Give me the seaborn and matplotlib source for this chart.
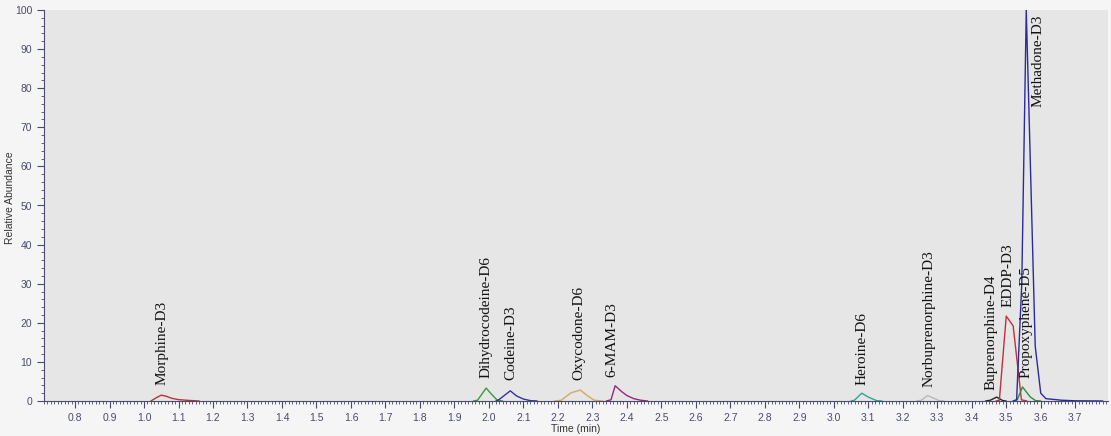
import numpy as np
import pandas as pd
import matplotlib
matplotlib.use("Agg")
import matplotlib.pyplot as plt
from matplotlib.ticker import MultipleLocator, FormatStrFormatter
import seaborn as sns

# ---- data ----
compounds = ["Morphine-D3", "Dihydrocodeine-D6", "Codeine-D3", "Oxycodone-D6",
             "6-MAM-D3", "Heroine-D6", "Norbuprenorphine-D3", "Buprenorphine-D4",
             "EDDP-D3", "Propoxyphene-D5", "Methadone-D3"]

morphine_t = [1.02, 1.035, 1.05, 1.065, 1.08, 1.10, 1.13, 1.16]
morphine_y = [0.0, 0.8, 1.5, 1.2, 0.7, 0.35, 0.15, 0.0]
dihydro_t = [1.955, 1.967, 1.992, 2.005, 2.024, 2.04]
dihydro_y = [0.0, 0.2, 3.3, 2.0, 0.2, 0.0]
codeine_t = [2.02, 2.03, 2.062, 2.08, 2.10, 2.12, 2.14]
codeine_y = [0.0, 0.4, 2.6, 1.3, 0.5, 0.1, 0.0]
oxy_t = [2.19, 2.21, 2.238, 2.265, 2.285, 2.305, 2.33]
oxy_y = [0.0, 0.2, 2.1, 2.8, 1.4, 0.2, 0.0]
mam_t = [2.34, 2.354, 2.366, 2.385, 2.40, 2.42, 2.44, 2.46]
mam_y = [0.0, 0.3, 3.9, 2.4, 1.4, 0.6, 0.2, 0.0]
heroine_t = [3.05, 3.06, 3.081, 3.10, 3.124, 3.14]
heroine_y = [0.0, 0.2, 2.0, 1.0, 0.1, 0.0]
norbup_t = [3.24, 3.254, 3.272, 3.29, 3.305, 3.32]
norbup_y = [0.0, 0.2, 1.4, 0.7, 0.1, 0.0]
bup_t = [3.44, 3.454, 3.472, 3.49, 3.50]
bup_y = [0.0, 0.2, 1.0, 0.1, 0.0]
eddp_t = [3.47, 3.48, 3.50, 3.52, 3.544, 3.56]
eddp_y = [0.0, 0.2, 21.7, 19.2, 0.3, 0.0]
propox_t = [3.52, 3.532, 3.547, 3.57, 3.585, 3.60]
propox_y = [0.0, 0.3, 3.6, 1.0, 0.1, 0.0]
methadone_t = [3.52, 3.53, 3.545, 3.558, 3.584, 3.60, 3.615, 3.66, 3.70, 3.78]
methadone_y = [0.0, 0.3, 30.0, 100.0, 14.0, 2.0, 0.6, 0.2, 0.05, 0.0]

label_t = [1.052, 1.993, 2.065, 2.262, 2.357, 3.081, 3.275, 3.457, 3.505, 3.558, 3.593]
label_y = [4.1, 5.9, 5.4, 5.4, 6.1, 4.1, 3.6, 2.8, 24.0, 5.9, 75.2]

colors = ["#b5323f", "#3c9a3c", "#33339e", "#d2a963", "#932a7c", "#2fa39b",
          "#b9b9b9", "#222222", "#c0303e", "#2f8f3a", "#2b2b9c"]

series_t = [morphine_t, dihydro_t, codeine_t, oxy_t, mam_t, heroine_t,
            norbup_t, bup_t, eddp_t, propox_t, methadone_t]
series_y = [morphine_y, dihydro_y, codeine_y, oxy_y, mam_y, heroine_y,
            norbup_y, bup_y, eddp_y, propox_y, methadone_y]

frames = []
for name, t, y in zip(compounds, series_t, series_y):
    frames.append(pd.DataFrame({"Time (min)": t, "Relative Abundance": y, "Compound": name}))
df = pd.concat(frames, ignore_index=True)

# ---- styling ----
sns.set_style("ticks")
tick_col = "#4b4b6e"
plt.rcParams["font.family"] = ["Liberation Sans", "DejaVu Sans"]

fig = plt.figure(figsize=(11.11, 4.36), dpi=100, facecolor="#f5f5f5")
ax = fig.add_axes([44 / 1111, 35 / 436, (1108 - 44) / 1111, (401 - 10) / 436])
ax.set_facecolor("#e6e6e6")

sns.lineplot(data=df, x="Time (min)", y="Relative Abundance", hue="Compound",
             palette=dict(zip(compounds, colors)), sort=False, estimator=None,
             linewidth=1.0, legend=False, ax=ax)

for name, t, y in zip(compounds, label_t, label_y):
    ax.text(t, y, name, rotation=90, ha="center", va="bottom",
            fontsize=11, family=["Liberation Serif", "DejaVu Serif"], color="#111111")

ax.set_xlim(0.71, 3.795)
ax.set_ylim(0, 100)
ax.xaxis.set_major_locator(MultipleLocator(0.1))
ax.xaxis.set_minor_locator(MultipleLocator(0.01))
ax.xaxis.set_major_formatter(FormatStrFormatter("%.1f"))
ax.yaxis.set_major_locator(MultipleLocator(10))
ax.yaxis.set_minor_locator(MultipleLocator(2))

ax.tick_params(axis="both", which="major", length=5, width=0.8, colors=tick_col,
               labelsize=7.5, direction="out")
ax.tick_params(axis="both", which="minor", length=2.5, width=0.6, colors=tick_col,
               direction="out")
for s in ["top", "right"]:
    ax.spines[s].set_visible(False)
for s in ["left", "bottom"]:
    ax.spines[s].set_color(tick_col)
    ax.spines[s].set_linewidth(0.8)

ax.set_xlabel("Time (min)", fontsize=7.5, color="#333333", labelpad=1)
ax.set_ylabel("Relative Abundance", fontsize=7.5, color="#333333")
ax.yaxis.set_label_coords(-0.027, 0.52)

fig.savefig("out.png", dpi=100, facecolor=fig.get_facecolor())
